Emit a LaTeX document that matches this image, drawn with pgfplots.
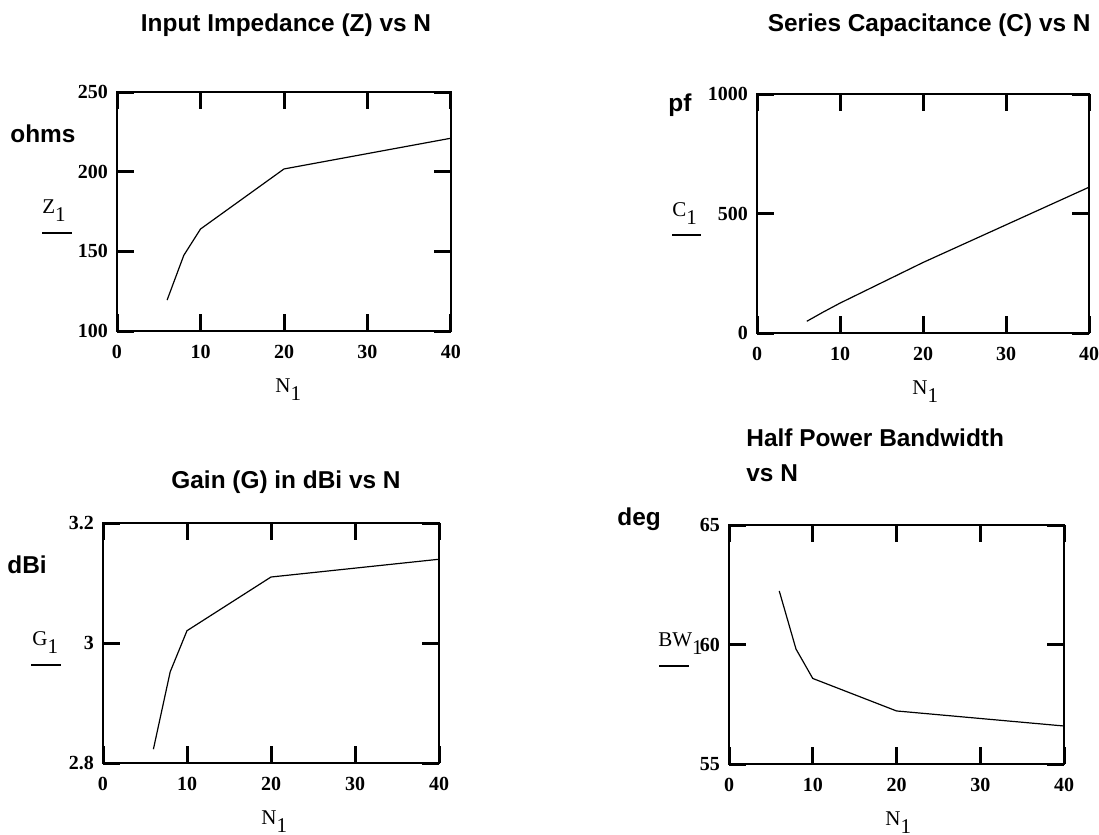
\documentclass[border=0pt]{standalone}
\usepackage{fontspec}
\setmainfont{Liberation Serif}
\newfontfamily\arial{Liberation Sans}
\usepackage{pgfplots}
\pgfplotsset{compat=1.18}
\pgfplotsset{mc/.style={
  scale only axis, xmin=0, xmax=40, xtick={0,10,20,30,40},
  tick align=inside, major tick length=8.5pt,
  every tick/.style={black, line width=1.5pt},
  axis line style={line width=1pt},
  tick label style={font=\fontsize{10}{12}\selectfont\bfseries},
  /pgf/number format/assume math mode=true,
  /pgf/number format/1000 sep={},
  xticklabel style={yshift=-3.5pt},
  yticklabel style={xshift=-1pt},
  anchor=south west,
}}
\newcommand{\ttl}{\fontsize{12.2}{14}\selectfont\arial\bfseries}
\newcommand{\lab}{\fontsize{10.5}{12}\selectfont}
\newcommand{\sub}{\raisebox{-4pt}{1}}
\begin{document}
\begin{tikzpicture}
\path[use as bounding box] (0,0) rectangle (549.5pt,-417.5pt);
% plot 1
\begin{axis}[mc, at={(58.5pt,-165.5pt)}, width=167pt, height=119.5pt,
  ymin=100, ymax=250, ytick={100,150,200,250}]
\addplot[black, line width=0.6pt] coordinates {(6,119.4) (8,147.5) (10,164) (20,201.7) (40,221)};
\end{axis}
% plot 2
\begin{axis}[mc, at={(378.5pt,-166.5pt)}, width=166pt, height=119.5pt,
  ymin=0, ymax=1000, ytick={0,500,1000}]
\addplot[black, line width=0.6pt] coordinates {(6,49) (8,88) (10,125) (20,295) (40,610)};
\end{axis}
% plot 3
\begin{axis}[mc, at={(51.5pt,-381.5pt)}, width=168pt, height=120pt,
  ymin=2.8, ymax=3.2, ytick={2.8,3,3.2}]
\addplot[black, line width=0.6pt] coordinates {(6,2.823) (8,2.952) (10,3.0205) (20,3.110) (40,3.1396)};
\end{axis}
% plot 4
\begin{axis}[mc, at={(364.5pt,-382pt)}, width=167.5pt, height=119.5pt,
  ymin=55, ymax=65, ytick={55,60,65}]
\addplot[black, line width=0.6pt] coordinates {(6,62.24) (8,59.81) (10,58.58) (20,57.22) (40,56.59)};
\end{axis}
% titles
\node[font=\ttl] at (143pt,-12.5pt) {Input Impedance (Z) vs N};
\node[font=\ttl, anchor=east, inner sep=0pt] at (545.5pt,-12.5pt) {Series Capacitance (C) vs N};
\node[font=\ttl] at (143pt,-241pt) {Gain (G) in dBi vs N};
\node[font=\ttl, anchor=base west, inner sep=0pt] at (373pt,-223pt) {Half Power Bandwidth};
\node[font=\ttl, anchor=base west, inner sep=0pt] at (373pt,-240.5pt) {vs N};
% units
\node[font=\ttl, anchor=base west, inner sep=0pt] at (5pt,-71pt) {ohms};
\node[font=\ttl, anchor=base west, inner sep=0pt] at (334pt,-55.5pt) {pf};
\node[font=\ttl, anchor=base west, inner sep=0pt] at (3.5pt,-286.5pt) {dBi};
\node[font=\ttl, anchor=base west, inner sep=0pt] at (308.5pt,-262.5pt) {deg};
% y labels
\node[font=\lab, anchor=base west, inner sep=0pt] at (21pt,-106.5pt) {Z\sub};
\draw[line width=0.6pt] (21pt,-116.5pt) -- (36pt,-116.5pt);
\node[font=\lab, anchor=base west, inner sep=0pt] at (336pt,-108.3pt) {C\sub};
\draw[line width=0.6pt] (336pt,-117.5pt) -- (350.5pt,-117.5pt);
\node[font=\lab, anchor=base west, inner sep=0pt] at (16pt,-322.5pt) {G\sub};
\draw[line width=0.6pt] (15.5pt,-332.5pt) -- (30.5pt,-332.5pt);
\node[font=\lab, anchor=base west, inner sep=0pt] at (329pt,-323.3pt) {BW\sub};
\draw[line width=0.6pt] (329.5pt,-333pt) -- (344.5pt,-333pt);
% x labels
\node[font=\lab, anchor=base west, inner sep=0pt] at (137.5pt,-196pt) {N\sub};
\node[font=\lab, anchor=base west, inner sep=0pt] at (456pt,-197pt) {N\sub};
\node[font=\lab, anchor=base west, inner sep=0pt] at (130.5pt,-412pt) {N\sub};
\node[font=\lab, anchor=base west, inner sep=0pt] at (442.5pt,-412.5pt) {N\sub};
\end{tikzpicture}
\end{document}
